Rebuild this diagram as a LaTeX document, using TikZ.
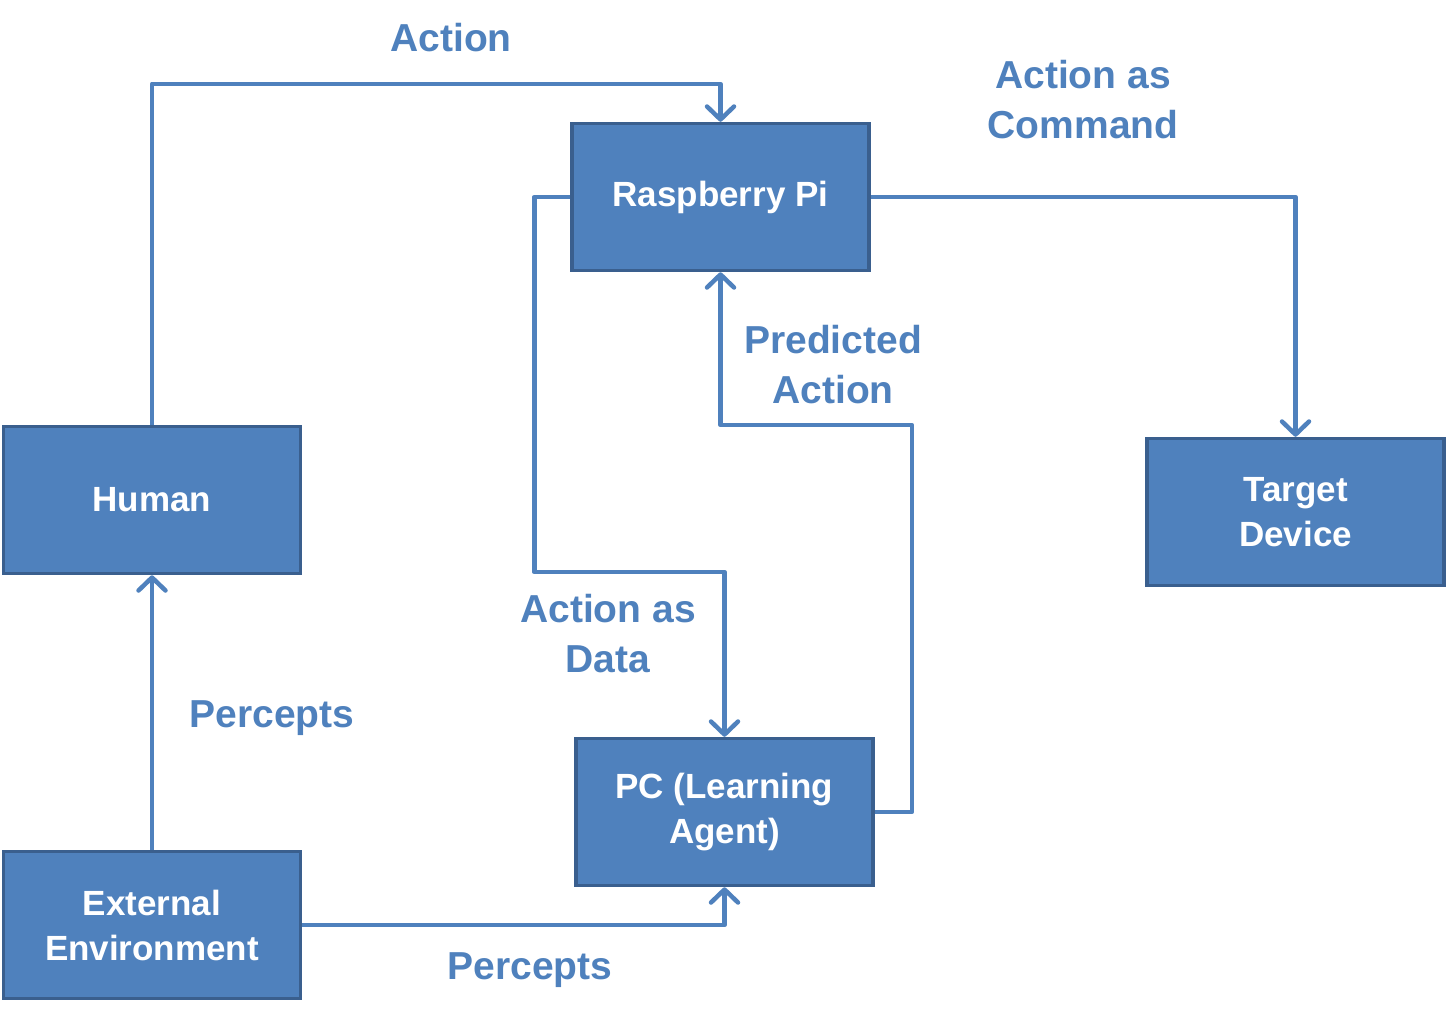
\documentclass[tikz,border=0pt]{standalone}
\usepackage{fontspec}
\setmainfont{Liberation Sans}
\usetikzlibrary{arrows.meta}
\definecolor{boxfill}{HTML}{4F81BD}
\definecolor{boxedge}{HTML}{3A5F8E}
\definecolor{linecol}{HTML}{4F81BD}
\tikzset{
  blockbox/.style={draw=boxedge, fill=boxfill, line width=3.5pt, minimum width=297pt, minimum height=147pt,
    align=center, text=white, font=\fontsize{35}{45}\selectfont\bfseries, inner sep=0pt},
  conn/.style={draw=linecol, line width=4.5pt, line join=round},
  arr/.style={conn, -{Straight Barb[length=13pt,width=27pt,line cap=round,line join=round]}},
  lbl/.style={text=linecol, align=center, font=\fontsize{39}{50}\selectfont\bfseries, inner sep=0pt}
}
\begin{document}
\begin{tikzpicture}[x=1pt,y=-1pt]
\useasboundingbox[fill=white] (0,0) rectangle (1448,1021);
\node[blockbox] (rpi) at (720.5,197) {Raspberry Pi};
\node[blockbox] (human) at (152,500) {Human};
\node[blockbox] (target) at (1295.5,512) {Target\\Device};
\node[blockbox] (pc) at (724.5,812) {PC (Learning\\Agent)};
\node[blockbox] (ext) at (152,925) {External\\Environment};
\draw[arr] (human.north) -- ++(0,-341) -| (rpi.north);
\draw[arr] (rpi.east) -| (target.north);
\draw[arr] (rpi.west) -| ++(-36,375) -| (pc.north);
\draw[arr] (pc.east) -| ++(37,-387) -| (rpi.south);
\draw[arr] (ext.north) -- (human.south);
\draw[arr] (ext.east) -| (pc.south);
\node[lbl] (l1) at (451,38) {Action};
\node[lbl] (l2) at (1083,100) {Action as\\Command};
\node[lbl] (l3) at (833,365) {Predicted\\Action};
\node[lbl] (l4) at (608,634) {Action as\\Data};
\node[lbl] (l5) at (272,718) {Percepts};
\node[lbl] (l6) at (530,970) {Percepts};
\end{tikzpicture}
\end{document}
